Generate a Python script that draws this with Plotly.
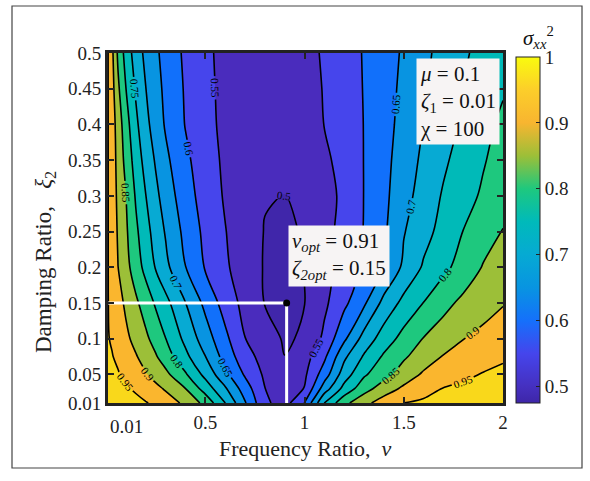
import plotly.graph_objects as go

# ---------------- data ----------------
nu = [0.01, 0.03, 0.06, 0.1, 0.15, 0.2, 0.25, 0.3, 0.4, 0.5, 0.6, 0.7, 0.8, 0.9,
      1.0, 1.1, 1.2, 1.3, 1.4, 1.5, 1.6, 1.7, 1.8, 1.9, 2.0]
zeta2 = [0.01, 0.03, 0.05, 0.075, 0.1, 0.15, 0.2, 0.25, 0.3, 0.35, 0.4, 0.45, 0.5]

row_001 = [.985, .982, .977, .970, .962, .953, .941, .925, .890, .835, .751, .655, .559, .530, .601, .751, .836, .886, .923, .951, .958, .965, .972, .978, .985]
row_003 = [.975, .972, .966, .956, .944, .928, .9125, .895, .851, .779, .707, .625, .551, .520, .552, .675, .767, .830, .875, .9095, .933, .952, .9587, .965, .972]
row_005 = [.965, .9604, .9535, .941, .922, .904, .883, .8625, .806, .736, .664, .594, .542, .511, .541, .625, .725, .793, .832, .873, .907, .926, .941, .9527, .958]
row_0075 = [.957, .952, .942, .925, .904, .880, .855, .825, .7625, .701, .631, .569, .5316, .5005, .529, .590, .690, .756, .807, .843, .875, .903, .917, .931, .945]
row_010 = [.952, .946, .932, .911, .885, .860, .831, .801, .7375, .675, .6125, .551, .5206, .495, .505, .561, .641, .719, .774, .817, .852, .874, .899, .914, .928]
row_015 = [.951, .940, .919, .891, .859, .827, .794, .765, .701, .6375, .579, .5345, .4985, .488, .4995, .540, .589, .642, .715, .764, .801, .836, .861, .879, .897]
row_020 = [.951, .934, .901, .867, .825, .785, .747, .713, .651, .596, .558, .523, .497, .4895, .5005, .534, .569, .608, .651, .710, .756, .7875, .821, .853, .870]
row_025 = [.951, .931, .895, .858, .810, .768, .730, .696, .636, .588, .552, .520, .4985, .4935, .503, .535, .565, .602, .642, .697, .733, .767, .801, .829, .852]
row_030 = [.951, .928, .890, .851, .795, .751, .712, .678, .621, .579, .545, .517, .502, .4995, .509, .530, .562, .601, .638, .682, .721, .755, .782, .807, .830]
row_035 = [.951, .926, .885, .835, .778, .732, .695, .661, .610, .573, .541, .517, .505, .5055, .517, .540, .568, .601, .635, .674, .710, .742, .770, .796, .820]
row_040 = [.951, .924, .879, .821, .761, .714, .677, .645, .598, .567, .537, .5165, .508, .5114, .5254, .551, .575, .601, .632, .666, .701, .729, .758, .786, .810]
row_045 = [.951, .919, .860, .801, .744, .701, .668, .639, .595, .564, .536, .518, .5115, .5155, .529, .553, .577, .602, .630, .661, .694, .723, .751, .775, .795]
row_050 = [.951, .912, .842, .781, .727, .688, .659, .633, .591, .561, .535, .520, .515, .5196, .533, .556, .579, .603, .629, .656, .688, .717, .744, .763, .780]

sigma = [row_001, row_003, row_005, row_0075, row_010, row_015, row_020,
         row_025, row_030, row_035, row_040, row_045, row_050]

levels_start, levels_end, levels_step = 0.5, 0.95, 0.05
opt_nu, opt_zeta = 0.91, 0.15

x_ticks = [0.01, 0.5, 1, 1.5, 2]
x_ticktext = ["", "0.5", "1", "1.5", "2"]
y_ticks = [0.01, 0.05, 0.1, 0.15, 0.2, 0.25, 0.3, 0.35, 0.4, 0.45, 0.5]
y_ticktext = ["0.01", "0.05", "0.1", "0.15", "0.2", "0.25", "0.3", "0.35", "0.4", "0.45", "0.5"]
cb_ticks = [0.5, 0.6, 0.7, 0.8, 0.9, 1.0]
cb_ticktext = ["0.5", "0.6", "0.7", "0.8", "0.9", "1"]

# ---------------- styles ----------------
FONT = "Liberation Serif, Times New Roman, serif"
band_colors = ['#4026aa', '#4a2cbd', '#4645ec', '#1170fb', '#0894e1', '#07aad3',
               '#00bab8', '#1ec87e', '#9cbf38', '#fab62e', '#f9d81b']
band_scale = [[i / 10, c] for i, c in enumerate(band_colors)]

bar_scale = [[0.0, '#3e26a8'], [0.048, '#4530c0'], [0.143, '#4545ec'], [0.238, '#1570fb'],
             [0.333, '#0894e1'], [0.429, '#06aad3'], [0.524, '#00baba'], [0.619, '#1ec87e'],
             [0.714, '#9cbf38'], [0.81, '#f8b530'], [0.905, '#fcce2a'], [1.0, '#f9fb0e']]

fig = go.Figure()

fig.add_trace(go.Contour(
    x=nu, y=zeta2, z=sigma,
    zauto=False, zmin=levels_start - levels_step / 2, zmax=levels_end + levels_step / 2,
    colorscale=band_scale, showscale=False,
    autocontour=False,
    contours=dict(start=levels_start, end=levels_end, size=levels_step, coloring='fill',
                  showlabels=True, labelformat='.2~f',
                  labelfont=dict(family=FONT, size=11, color='black')),
    line=dict(color='black', width=1.6, smoothing=1.0),
    hoverinfo='skip',
))

# optimum guide lines
fig.add_trace(go.Scatter(
    x=[nu[0], opt_nu, opt_nu], y=[opt_zeta, opt_zeta, zeta2[0]],
    mode='lines', line=dict(color='white', width=3), hoverinfo='skip', showlegend=False))
fig.add_trace(go.Scatter(
    x=[opt_nu], y=[opt_zeta], mode='markers',
    marker=dict(color='black', size=7), hoverinfo='skip', showlegend=False))

# colorbar-only trace
fig.add_trace(go.Scatter(
    x=[None], y=[None], mode='markers', showlegend=False, hoverinfo='skip',
    marker=dict(color=[0.5], cmin=0.475, cmax=1.0, colorscale=bar_scale, showscale=True,
                colorbar=dict(x=(516 - 108) / 395, xanchor='left', y=0, yanchor='bottom',
                              len=(403 - 57) / 350, lenmode='fraction', thickness=24,
                              xpad=0, ypad=0, outlinewidth=1, outlinecolor='#222',
                              tickvals=cb_ticks, ticktext=cb_ticktext, ticks='inside',
                              ticklen=4, tickcolor='#222',
                              tickfont=dict(family=FONT, size=19, color='#222'))),
))

axis_common = dict(showline=True, linewidth=3, linecolor='#222', mirror='ticks',
                   ticks='inside', ticklen=6, tickwidth=2, tickcolor='#222',
                   showgrid=False, zeroline=False,
                   tickfont=dict(family=FONT, size=19, color='#222'))

fig.update_layout(
    width=590, height=481,
    margin=dict(l=108, r=87, t=53, b=78),
    paper_bgcolor='white', plot_bgcolor='white',
    font=dict(family=FONT, color='#222'),
    showlegend=False,
    xaxis=dict(range=[0.01, 2.0], tickvals=x_ticks, ticktext=x_ticktext, **axis_common),
    yaxis=dict(range=[0.01, 0.5], tickvals=y_ticks, ticktext=y_ticktext, **axis_common),
)

annotations = [
    dict(text="0.01", x=0.01, y=-0.03, xref='x', yref='paper', xanchor='left', yanchor='top',
         showarrow=False, font=dict(family=FONT, size=19, color='#222')),
    dict(text="Frequency Ratio,  <i>ν</i>", x=0.5, y=-(448 - 403) / 350, xref='paper', yref='paper',
         xanchor='center', yanchor='middle', showarrow=False,
         font=dict(family=FONT, size=22, color='#222')),
    dict(text="Damping Ratio,&nbsp;&nbsp;&nbsp;<i>ξ</i><sub>2</sub>", x=(45 - 108) / 395, y=(403 - 262) / 350,
         xref='paper', yref='paper', xanchor='center', yanchor='middle', textangle=-90,
         showarrow=False, font=dict(family=FONT, size=23, color='#222')),
    dict(text="<i>σ</i><sub><i>xx</i></sub><sup>2</sup>", x=(538 - 108) / 395, y=(403 - 38) / 350,
         xref='paper', yref='paper', xanchor='center', yanchor='middle', showarrow=False,
         font=dict(family=FONT, size=21, color='#111')),
    dict(text="<i>μ</i> = 0.1<br><i>ζ</i><sub>1</sub> = 0.01<br>χ = 100",
         x=(416 - 108) / 395, y=(403 - 58) / 350, xref='paper', yref='paper',
         xanchor='left', yanchor='top', align='left', showarrow=False,
         bgcolor='#f7f4f4', borderpad=3,
         font=dict(family=FONT, size=21, color='#111')),
    dict(text="<i>v</i><sub><i>opt</i></sub> = 0.91<br><i>ζ</i><sub><i>2opt</i></sub> = 0.15",
         x=(288 - 108) / 395, y=(403 - 225) / 350, xref='paper', yref='paper',
         xanchor='left', yanchor='top', align='left', showarrow=False,
         bgcolor='#f7f4f4', borderpad=3,
         font=dict(family=FONT, size=21, color='#111')),
]
fig.update_layout(annotations=annotations)

fig.add_shape(type='rect', xref='paper', yref='paper',
              x0=(12 - 108) / 395, x1=(582 - 108) / 395,
              y0=(403 - 468) / 350, y1=(403 - 6) / 350,
              line=dict(color='#444', width=1.2), fillcolor='rgba(0,0,0,0)', layer='below')

fig.write_html("out.html", config={'displayModeBar': False},
               post_script="document.body.style.margin='0px';")
